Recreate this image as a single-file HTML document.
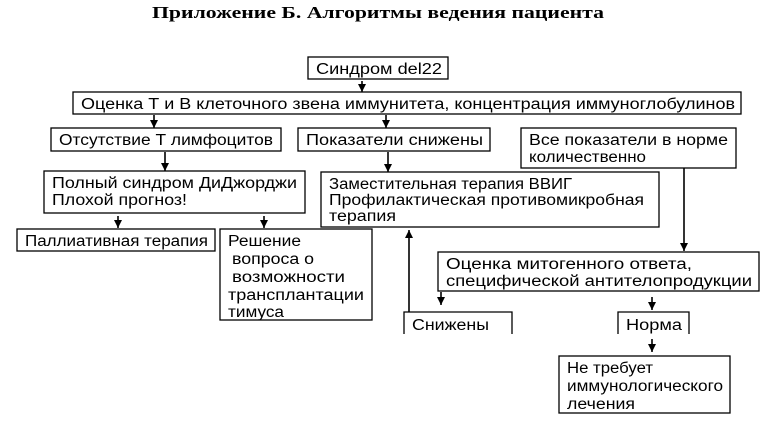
<!DOCTYPE html>
<html><head><meta charset="utf-8"><style>
html,body{margin:0;padding:0;background:#fff;width:766px;height:427px;overflow:hidden}
svg text{font-family:"Liberation Sans","DejaVu Sans",sans-serif;font-size:15.5px;fill:#000}
</style></head><body>
<svg width="766" height="427" viewBox="0 0 766 427" xmlns="http://www.w3.org/2000/svg">
<defs><marker id="a" markerWidth="9" markerHeight="9" refX="8" refY="4" orient="auto" markerUnits="userSpaceOnUse"><path d="M0,0 L8,4 L0,8 Z" fill="#000"/></marker></defs>
<text x="378" y="18" text-anchor="middle" style="font-family:'Liberation Serif',serif;font-weight:bold;font-size:17px" textLength="452" lengthAdjust="spacingAndGlyphs">Приложение Б. Алгоритмы ведения пациента</text>
<g fill="#fff" stroke="#000" stroke-width="1.3">
<rect x="308" y="57" width="140" height="22"/>
<rect x="73" y="92" width="668" height="22"/>
<rect x="51" y="128" width="230" height="23"/>
<rect x="298" y="128" width="192" height="23"/>
<rect x="521" y="128" width="215" height="40"/>
<rect x="44" y="171" width="261" height="42"/>
<rect x="321" y="172" width="338" height="55"/>
<rect x="17" y="229" width="198" height="22"/>
<rect x="220" y="229" width="152" height="91"/>
<rect x="438" y="252" width="321" height="39"/>
<rect x="559" y="356" width="171" height="57"/>
<path d="M404,334 V312 H512 V334" fill="none"/>
<path d="M618,334 V312 H689 V334" fill="none"/>
</g>
<g stroke="#000" stroke-width="1.6" fill="none">
<line x1="362" y1="81" x2="362" y2="92" marker-end="url(#a)"/>
<line x1="154" y1="115" x2="154" y2="128" marker-end="url(#a)"/>
<line x1="386" y1="115" x2="386" y2="128" marker-end="url(#a)"/>
<line x1="165" y1="152" x2="165" y2="171" marker-end="url(#a)"/>
<line x1="388" y1="152" x2="388" y2="172" marker-end="url(#a)"/>
<line x1="118" y1="216" x2="118" y2="228" marker-end="url(#a)"/>
<line x1="264" y1="216" x2="264" y2="228" marker-end="url(#a)"/>
<line x1="684" y1="168" x2="684" y2="251" marker-end="url(#a)"/>
<line x1="409" y1="312" x2="409" y2="230" marker-end="url(#a)"/>
<line x1="441" y1="292" x2="441" y2="305" marker-end="url(#a)"/>
<line x1="652" y1="297" x2="652" y2="310" marker-end="url(#a)"/>
<line x1="652" y1="339" x2="652" y2="352" marker-end="url(#a)"/>
</g>
<g>
<text x="316" y="74" textLength="126" lengthAdjust="spacingAndGlyphs">Синдром del22</text>
<text x="81" y="109" textLength="654" lengthAdjust="spacingAndGlyphs">Оценка Т и В клеточного звена иммунитета, концентрация иммуноглобулинов</text>
<text x="59" y="145" textLength="214" lengthAdjust="spacingAndGlyphs">Отсутствие Т лимфоцитов</text>
<text x="306" y="145" textLength="177" lengthAdjust="spacingAndGlyphs">Показатели снижены</text>
<text x="529" y="145" textLength="199" lengthAdjust="spacingAndGlyphs">Все показатели в норме</text>
<text x="529" y="162" textLength="117" lengthAdjust="spacingAndGlyphs">количественно</text>
<text x="52" y="188" textLength="245" lengthAdjust="spacingAndGlyphs">Полный синдром ДиДжорджи</text>
<text x="52" y="205" textLength="135" lengthAdjust="spacingAndGlyphs">Плохой прогноз!</text>
<text x="329" y="189" textLength="243" lengthAdjust="spacingAndGlyphs">Заместительная терапия ВВИГ</text>
<text x="329" y="205" textLength="315" lengthAdjust="spacingAndGlyphs">Профилактическая противомикробная</text>
<text x="329" y="221" textLength="67" lengthAdjust="spacingAndGlyphs">терапия</text>
<text x="25" y="246" textLength="183" lengthAdjust="spacingAndGlyphs">Паллиативная терапия</text>
<text x="228" y="246" textLength="73" lengthAdjust="spacingAndGlyphs">Решение</text>
<text x="232" y="264" textLength="82" lengthAdjust="spacingAndGlyphs">вопроса о</text>
<text x="232" y="282" textLength="113" lengthAdjust="spacingAndGlyphs">возможности</text>
<text x="228" y="300" textLength="136" lengthAdjust="spacingAndGlyphs">трансплантации</text>
<text x="228" y="317" textLength="56" lengthAdjust="spacingAndGlyphs">тимуса</text>
<text x="446" y="269" textLength="246" lengthAdjust="spacingAndGlyphs">Оценка митогенного ответа,</text>
<text x="446" y="286" textLength="306" lengthAdjust="spacingAndGlyphs">специфической антителопродукции</text>
<text x="412" y="330" textLength="77" lengthAdjust="spacingAndGlyphs">Снижены</text>
<text x="626" y="330" textLength="56" lengthAdjust="spacingAndGlyphs">Норма</text>
<text x="567" y="373" textLength="86" lengthAdjust="spacingAndGlyphs">Не требует</text>
<text x="567" y="391" textLength="156" lengthAdjust="spacingAndGlyphs">иммунологического</text>
<text x="567" y="409" textLength="68" lengthAdjust="spacingAndGlyphs">лечения</text>
</g>
</svg>
</body></html>
